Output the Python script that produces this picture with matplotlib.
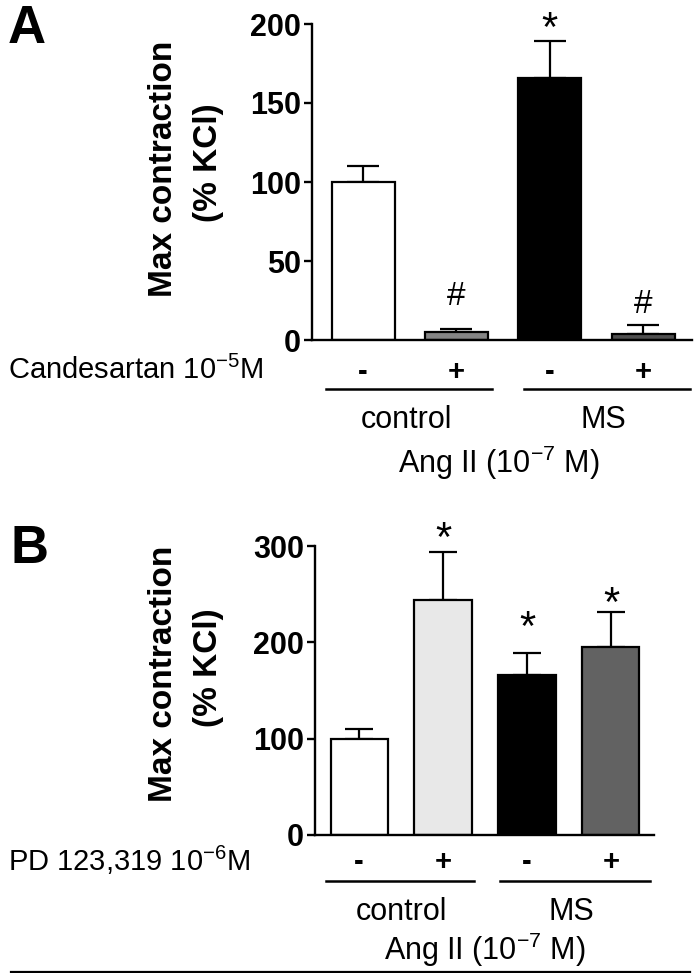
import matplotlib
matplotlib.use('Agg')
import matplotlib.pyplot as plt
import matplotlib.transforms as mtrans
from matplotlib.lines import Line2D

plt.rcParams['font.family'] = ['Liberation Sans', 'DejaVu Sans']
plt.rcParams['mathtext.fontset'] = 'custom'
plt.rcParams['mathtext.rm'] = 'Liberation Sans'
plt.rcParams['mathtext.it'] = 'Liberation Sans'
plt.rcParams['mathtext.bf'] = 'Liberation Sans:bold'

# panel A: Candesartan
a_vals = [100, 5, 166, 4]
a_err = [10, 2, 23, 5.5]
a_colors = ['white', '#858585', 'black', '#4f4f4f']
a_signs = ['-', '+', '-', '+']
a_marks = ['', '#', '*', '#']
a_mark_y = [0, 22, 189, 17]

# panel B: PD 123,319
b_vals = [100, 244, 166, 195]
b_err = [10, 50, 23, 37]
b_colors = ['white', '#e8e8e8', 'black', '#626262']
b_signs = ['-', '+', '-', '+']
b_marks = ['', '*', '*', '*']
b_mark_y = [0, 295, 202, 227]

groups = ['control', 'MS']

W, H = 700, 973
fig = plt.figure(figsize=(7, 9.73), dpi=100)


def fy(py):
    return 1 - py / H


def panel(rect, vals, err, colors, ymax, yticks, bw, capsize, signs, marks, mark_y,
          xlim, treat, letter, letter_pos, ylab_y, rows, line_spans, grp_x, ang_x):
    ax = fig.add_axes(rect)
    x = range(len(vals))
    ax.bar(x, vals, width=bw, color=colors, edgecolor='black', linewidth=1.6, zorder=2)
    ax.errorbar(x, vals, yerr=[[0] * len(vals), err], fmt='none', ecolor='black',
                elinewidth=1.6, capsize=capsize, capthick=1.6, zorder=1)
    for i, m in enumerate(marks):
        if m:
            fs = 30 if m == '*' else 24
            ax.text(i, mark_y[i], m, ha='center', va='baseline', fontsize=fs, clip_on=False)
    ax.set_xlim(*xlim)
    ax.set_ylim(0, ymax)
    ax.set_yticks(yticks)
    ax.set_xticks([])
    for s in ['top', 'right']:
        ax.spines[s].set_visible(False)
    for s in ['left', 'bottom']:
        ax.spines[s].set_linewidth(1.7)
    ax.tick_params(axis='y', direction='out', length=6, width=1.7, labelsize=22, pad=2)
    for lab in ax.get_yticklabels():
        lab.set_fontweight('bold')

    tr = mtrans.blended_transform_factory(ax.transData, fig.transFigure)
    for i, s in enumerate(signs):
        fig.text(i, fy(rows[0]), s, transform=tr, ha='center', va='center',
                 fontsize=21, fontweight='bold')
    for (x0, x1) in line_spans:
        fig.add_artist(Line2D([x0, x1], [fy(rows[1])] * 2, transform=tr,
                              color='black', linewidth=1.8))
    for g, gx in zip(groups, grp_x):
        fig.text(gx, fy(rows[2]), g, transform=tr, ha='center', va='center', fontsize=22)
    fig.text(ang_x, fy(rows[3]), 'Ang II (10$^{-7}$ M)', transform=tr,
             ha='center', va='center', fontsize=22)

    fig.text(8 / W, fy(rows[0] - 2), treat, ha='left', va='center', fontsize=21)
    fig.text(letter_pos[0] / W, fy(letter_pos[1]), letter, ha='left', va='top',
             fontsize=38, fontweight='bold')
    fig.text(163 / W, fy(ylab_y[0]), 'Max contraction', rotation=90, ha='center',
             va='center', fontsize=24, fontweight='bold')
    fig.text(208 / W, fy(ylab_y[1]), '(% KCl)', rotation=90, ha='center',
             va='center', fontsize=24, fontweight='bold')
    return ax


panel([312 / W, fy(340), 380 / W, 316 / H], a_vals, a_err, a_colors, 200,
      [0, 50, 100, 150, 200], 0.675, 11.5, a_signs, a_marks, a_mark_y,
      (-0.547, 3.525), 'Candesartan 10$^{-5}$M', 'A', (8, 4), (169, 163),
      [372, 389, 420, 463], [(-0.40, 1.38), (1.73, 3.5)], [0.47, 2.57], 1.45)

panel([315 / W, fy(835), 339 / W, 289 / H], b_vals, b_err, b_colors, 300,
      [0, 100, 200, 300], 0.68, 10.4, b_signs, b_marks, b_mark_y,
      (-0.525, 3.513), 'PD 123,319 10$^{-6}$M', 'B', (11, 524), (674, 668),
      [862, 881, 912, 950], [(-0.39, 1.37), (1.68, 3.46)], [0.51, 2.53], 1.5)

fig.add_artist(Line2D([11 / W, 690 / W], [fy(971.5)] * 2, color='black', linewidth=1.6))

fig.savefig('out.png', dpi=100)
